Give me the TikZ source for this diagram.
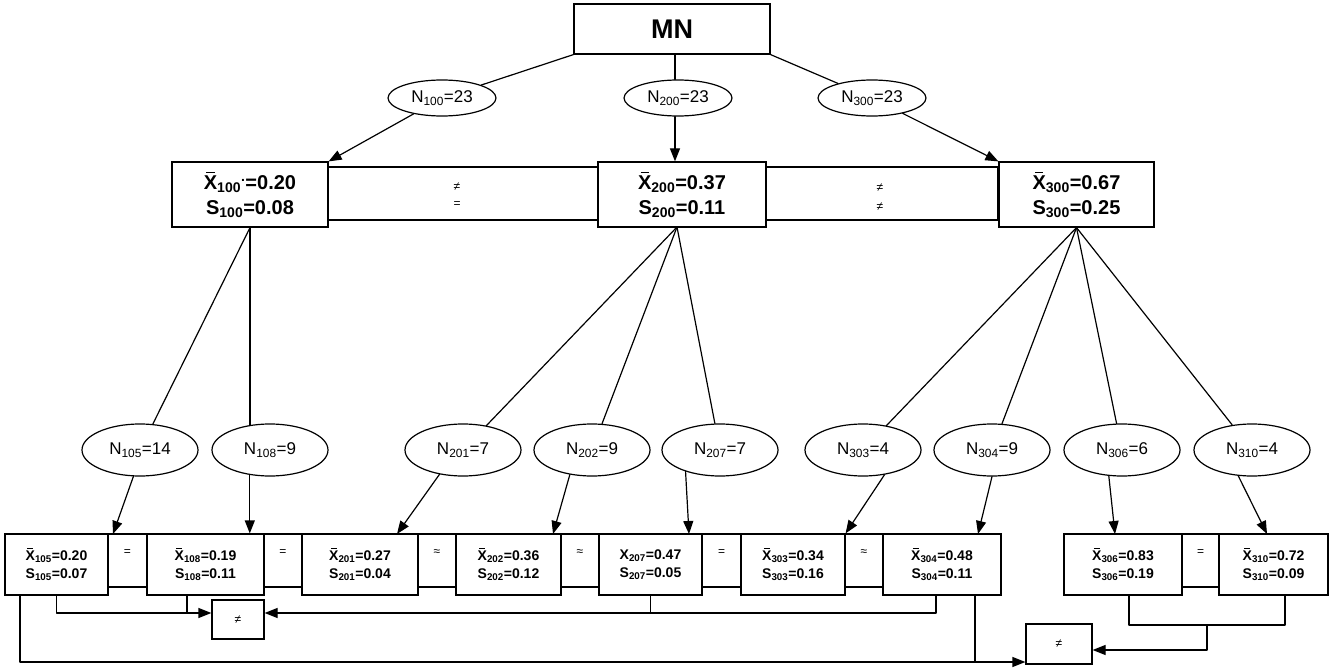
\documentclass[tikz,border=0pt]{standalone}
\usepackage{fontspec}
\setmainfont{Liberation Sans}
\usetikzlibrary{arrows.meta,calc,shapes.geometric}
\newcommand\xbr{\leavevmode\rlap{\hspace{0.12em}\raisebox{0.82em}{\rule{0.42em}{0.06em}}}X}
\newcommand\sbs[1]{\textsubscript{#1}}
\tikzset{
  ln/.style={line width=1.2pt, draw=black, line cap=round, line join=round},
  arr/.style={ln, -{Triangle[length=13pt,width=10pt]}},
  mnbox/.style={draw, line width=1.2pt, inner sep=0pt, minimum width=196, minimum height=50, font=\bfseries\fontsize{27}{30}\selectfont},
  topell/.style={ellipse, draw, line width=1.2pt, inner sep=0pt, minimum width=108, minimum height=36, font=\fontsize{17}{20}\selectfont},
  lowell/.style={ellipse, draw, line width=1.2pt, inner sep=0pt, minimum width=116, minimum height=52, font=\fontsize{17}{20}\selectfont},
  midbox/.style={draw, line width=1.2pt, inner sep=0pt, minimum height=65, align=center, font=\bfseries\fontsize{20}{25}\selectfont},
  midband/.style={draw, line width=1.2pt, inner sep=0pt, minimum height=53},
  bandtxt/.style={inner sep=0pt, font=\fontsize{12}{14}\selectfont},
  lowbox/.style={draw, line width=1.2pt, inner sep=0pt, minimum height=61, align=center, font=\bfseries\fontsize{14}{18}\selectfont},
  lowband/.style={draw, line width=1.2pt, inner sep=0pt, minimum height=53},
  nebox/.style={draw, line width=1.2pt, inner sep=0pt, font=\fontsize{12}{14}\selectfont},
}
\begin{document}
\begin{tikzpicture}[x=1pt,y=-1pt]
\useasboundingbox (0,0) rectangle (1330,671);
% top
\node[mnbox] (mn) at (672,29) {MN};
\node[topell] (n100) at (442,98) {N\sbs{100}=23};
\node[topell] (n200) at (678,98) {N\sbs{200}=23};
\node[topell] (n300) at (872,98) {N\sbs{300}=23};
% level 2 bands and boxes
\node[midband, minimum width=270] (bd1) at (463,193.5) {};
\node[midband, minimum width=232] (bd2) at (882,193.5) {};
\node[bandtxt] (bd1a) at (457,187) {≠};
\node[bandtxt] (bd1b) at (457,205) {=};
\node[bandtxt] (bd2a) at (880,188) {≠};
\node[bandtxt] (bd2b) at (880,207) {≠};
\node[midbox, minimum width=156] (b100) at (250,194.5) {\xbr\sbs{100}\textsuperscript{.}=0.20\\S\sbs{100}=0.08};
\node[midbox, minimum width=168] (b200) at (682,194.5) {\xbr\sbs{200}=0.37\\S\sbs{200}=0.11};
\node[midbox, minimum width=155] (b300) at (1076.5,194.5) {\xbr\sbs{300}=0.67\\S\sbs{300}=0.25};
% top connectors
\draw[ln] (mn.south west) -- (n100);
\draw[ln] (mn.south east) -- (n300);
\coordinate (c200) at (675,0);
\draw[ln] (c200 |- mn.south) -- (c200 |- n200.north);
\draw[arr] (n100) -- (b100.north east);
\draw[arr] (c200 |- n200.south) -- (c200 |- b200.north);
\draw[arr] (n300) -- (b300.north west);
% lower ellipses
\node[lowell] (n105) at (140,450) {N\sbs{105}=14};
\node[lowell] (n108) at (270,450) {N\sbs{108}=9};
\node[lowell] (n201) at (463,450) {N\sbs{201}=7};
\node[lowell] (n202) at (592,450) {N\sbs{202}=9};
\node[lowell] (n207) at (720,450) {N\sbs{207}=7};
\node[lowell] (n303) at (863,450) {N\sbs{303}=4};
\node[lowell] (n304) at (992,450) {N\sbs{304}=9};
\node[lowell] (n306) at (1122,450) {N\sbs{306}=6};
\node[lowell] (n310) at (1252,450) {N\sbs{310}=4};
% lines from level 2 boxes
\draw[ln] (b100.south) -- (n105);
\draw[ln] (b100.south) -- (b100.south |- n108.129);
\coordinate (c2) at (677,227);
\draw[ln] (c2) -- (n201);
\draw[ln] (c2) -- (n202);
\draw[ln] (c2) -- (n207);
\draw[ln] (b300.south) -- (n303);
\draw[ln] (b300.south) -- (n304);
\draw[ln] (b300.south) -- (n306);
\draw[ln] (b300.south) -- (n310);
% lower bands and boxes
\node[lowband, minimum width=39] (q1) at (127.5,560.5) {};
\node[lowband, minimum width=38] (q2) at (283,560.5) {};
\node[lowband, minimum width=38] (q3) at (437,560.5) {};
\node[lowband, minimum width=38] (q4) at (580,560.5) {};
\node[lowband, minimum width=39] (q5) at (721.5,560.5) {};
\node[lowband, minimum width=38] (q6) at (864,560.5) {};
\node[lowband, minimum width=37] (q7) at (1200.5,560.5) {};
\node[bandtxt] (s1) at (q1 |- 0,553) {=};
\node[bandtxt] (s2) at (q2 |- 0,553) {=};
\node[bandtxt] (s3) at (q3 |- 0,553) {≈};
\node[bandtxt] (s4) at (q4 |- 0,553) {≈};
\node[bandtxt] (s5) at (q5 |- 0,553) {=};
\node[bandtxt] (s6) at (q6 |- 0,553) {≈};
\node[bandtxt] (s7) at (q7 |- 0,553) {=};
\node[lowbox, minimum width=103] (b105) at (56.5,564.5) {\xbr\sbs{105}=0.20\\S\sbs{105}=0.07};
\node[lowbox, minimum width=117] (b108) at (205.5,564.5) {\xbr\sbs{108}=0.19\\S\sbs{108}=0.11};
\node[lowbox, minimum width=116] (b201) at (360,564.5) {\xbr\sbs{201}=0.27\\S\sbs{201}=0.04};
\node[lowbox, minimum width=105] (b202) at (508.5,564.5) {\xbr\sbs{202}=0.36\\S\sbs{202}=0.12};
\node[lowbox, minimum width=103] (b207) at (650.5,564.5) {X\sbs{207}=0.47\\S\sbs{207}=0.05};
\node[lowbox, minimum width=104] (b303) at (793,564.5) {\xbr\sbs{303}=0.34\\S\sbs{303}=0.16};
\node[lowbox, minimum width=118] (b304) at (942,564.5) {\xbr\sbs{304}=0.48\\S\sbs{304}=0.11};
\node[lowbox, minimum width=118] (b306) at (1123,564.5) {\xbr\sbs{306}=0.83\\S\sbs{306}=0.19};
\node[lowbox, minimum width=109] (b310) at (1273.5,564.5) {\xbr\sbs{310}=0.72\\S\sbs{310}=0.09};
% arrows ellipses -> boxes
\coordinate (t105) at (113,534);
\coordinate (t201) at (397,534);
\coordinate (t202) at (553,534);
\coordinate (t207) at (689,534);
\coordinate (t304) at (978,534);
\coordinate (t306) at (1115,534);
\coordinate (t310) at (1267,534);
\draw[arr] (n105.256) -- (t105);
\draw[arr] (n108.231) -- (n108.231 |- b108.north);
\draw[arr] (n201.226) -- (t201);
\draw[arr] (n202.228) -- (t202);
\draw[arr] (n207.212) -- (t207);
\draw[arr] (n303.311) -- (b303.north east);
\draw[arr] (n304.south) -- (t304);
\draw[arr] (n306.243) -- (t306);
\draw[arr] (n310.242) -- (t310);
% inequality boxes
\node[nebox, minimum width=52, minimum height=39] (ne1) at (238,619.5) {≠};
\node[nebox, minimum width=66, minimum height=40] (ne2) at (1059,644) {≠};
\coordinate (ya) at (0,613);
\coordinate (yb) at (0,662);
\coordinate (yc) at (0,625);
\coordinate (yd) at (0,650);
\draw[arr] (b105.south) -- (b105.south |- ya) -- (ne1.west |- ya);
\draw[ln] ([xshift=-18.5]b108.south) -- ([xshift=-18.5]b108.south |- ya);
\draw[arr] ([xshift=-6]b304.south) -- ([xshift=-6]b304.south |- ya) -- (ne1.east |- ya);
\draw[ln] (b207.south) -- (b207.south |- ya);
\draw[arr] ([xshift=-36.5]b105.south) -- ([xshift=-36.5]b105.south |- yb) -- (ne2.west |- yb);
\draw[ln] ([xshift=33]b304.south) -- ([xshift=33]b304.south |- yb);
\draw[ln] ([xshift=6]b306.south) -- ([xshift=6]b306.south |- yc) -| ([xshift=11.5]b310.south);
\coordinate (jm) at (1207,625);
\draw[arr] (jm) -- (jm |- yd) -- (ne2.east |- yd);
\end{tikzpicture}
\end{document}
